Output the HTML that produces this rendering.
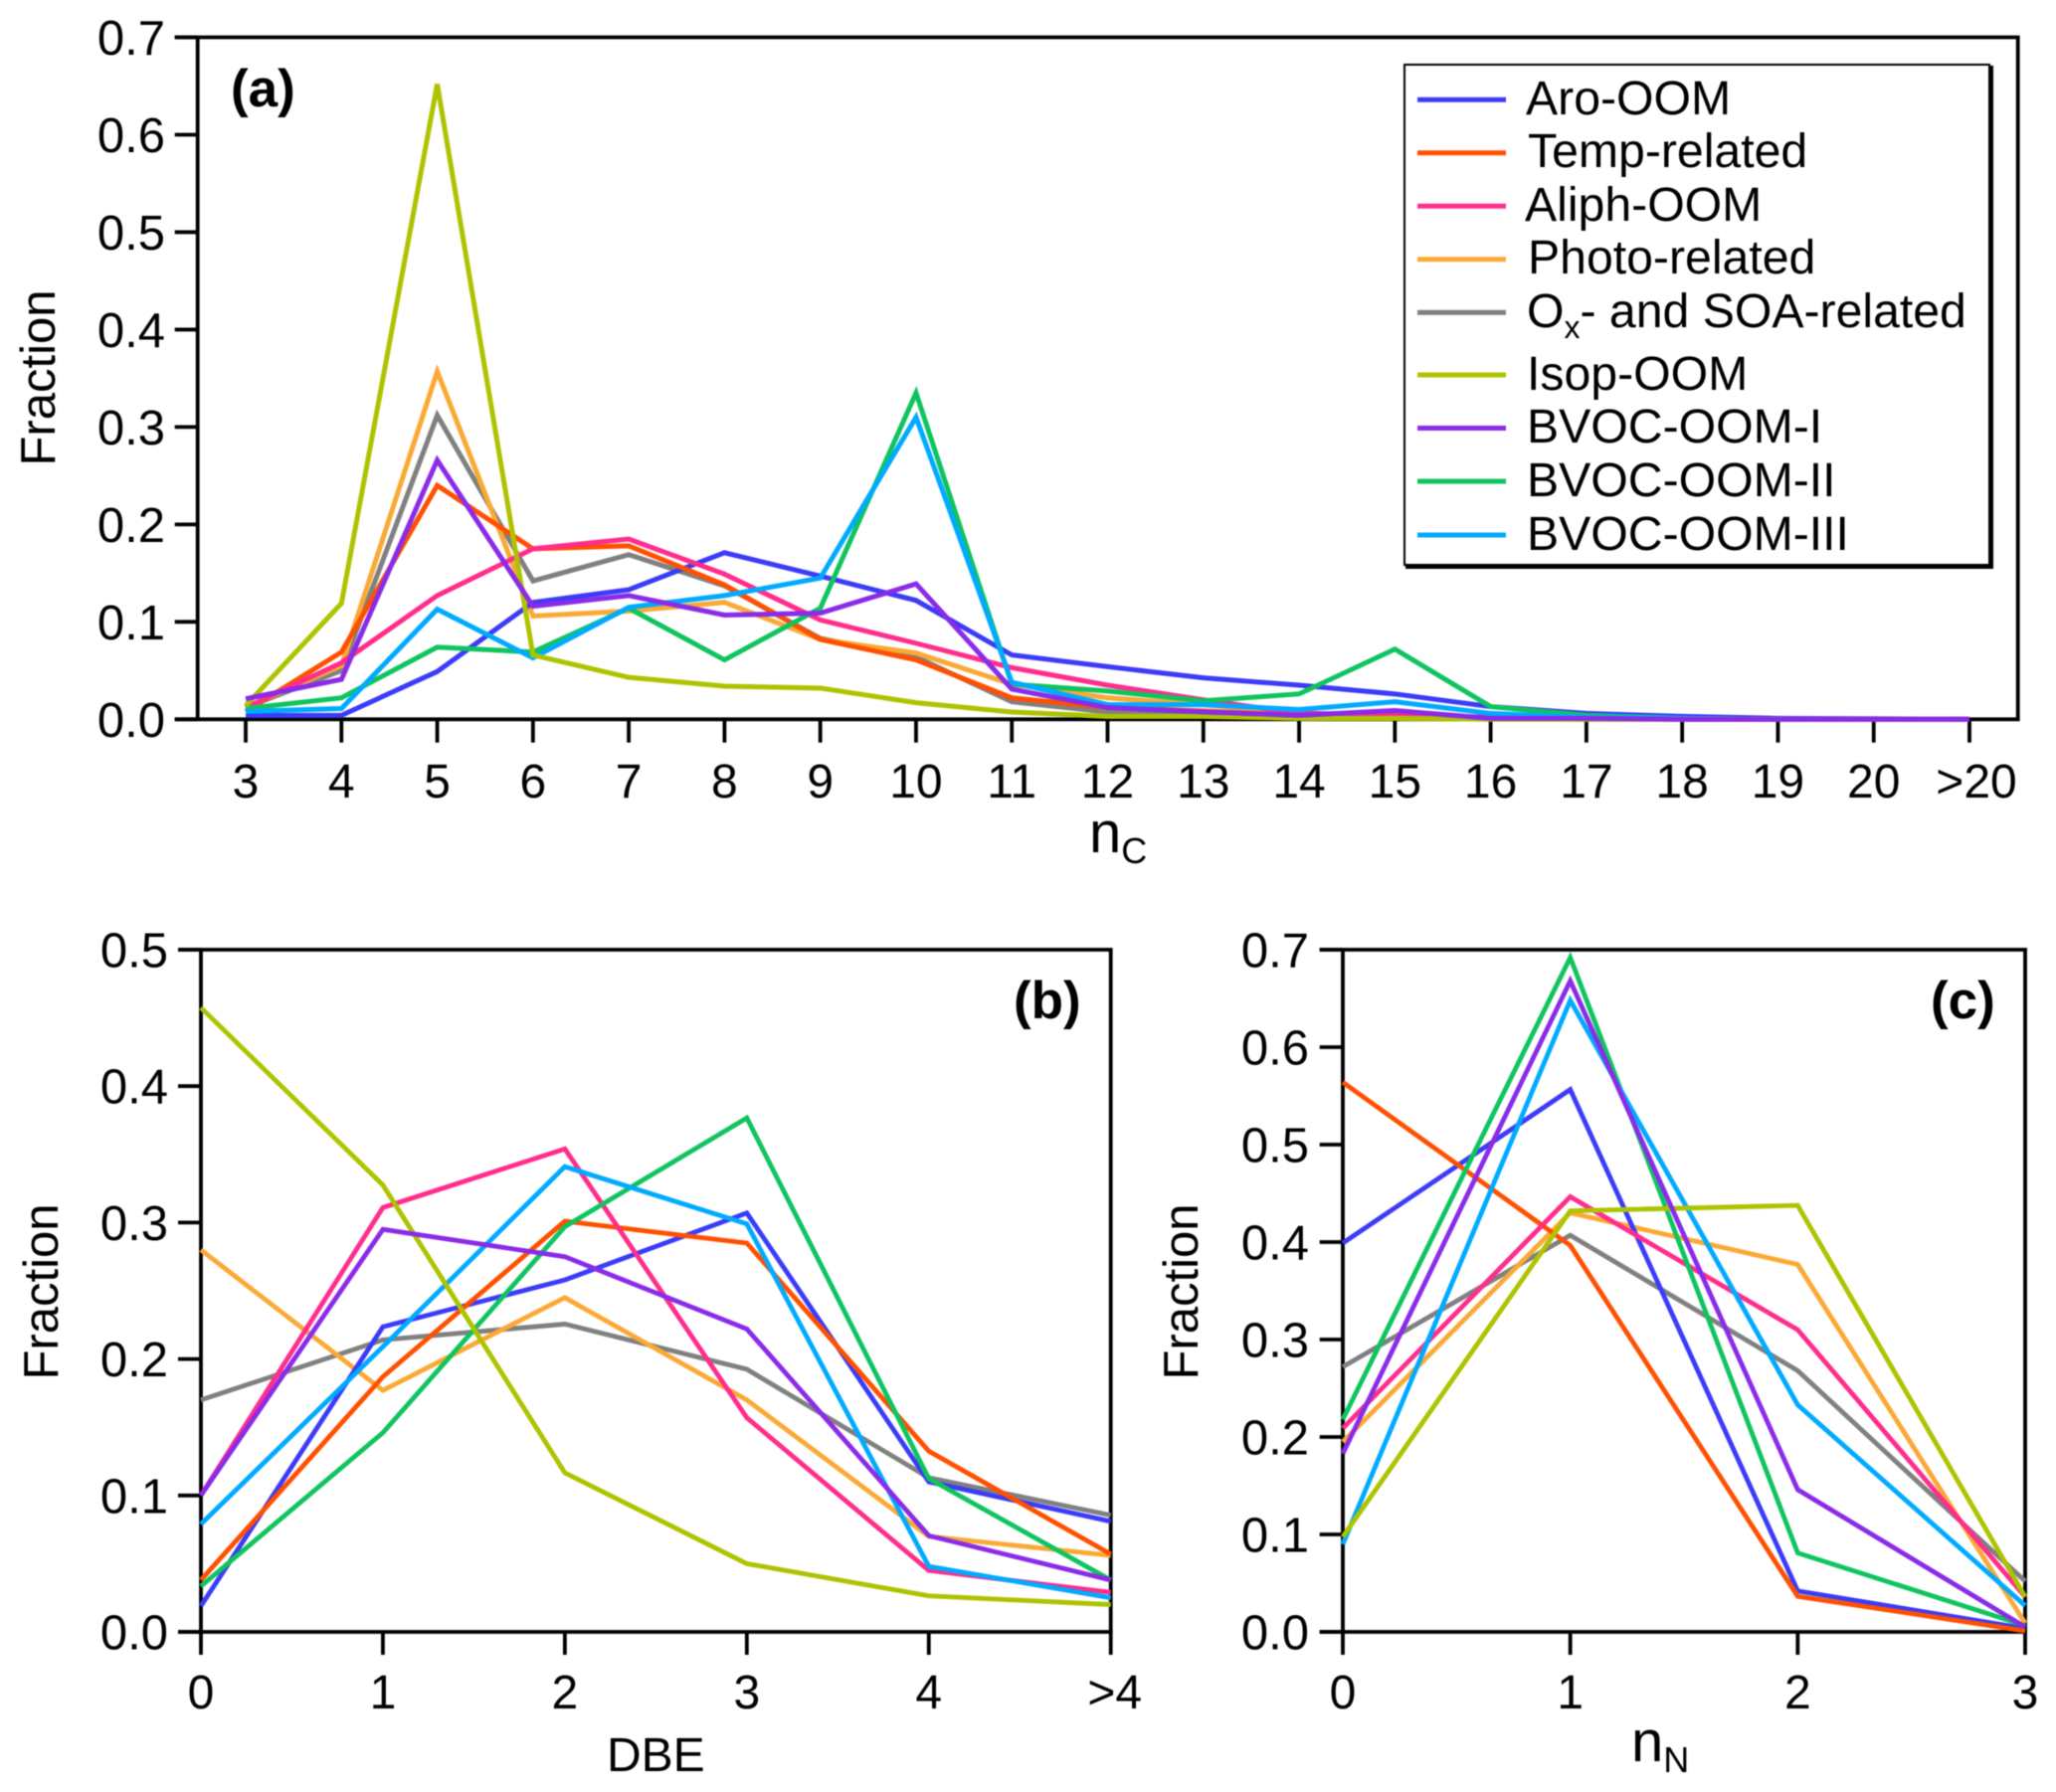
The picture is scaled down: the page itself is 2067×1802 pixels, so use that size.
<!DOCTYPE html>
<html lang="en">
<head>
<meta charset="utf-8">
<title>OOM factor fractions by nC, DBE and nN</title>
<style>
html,body{margin:0;padding:0;background:#fff;}
svg{display:block;font-family:"Liberation Sans",Arial,sans-serif;fill:#000;filter:blur(0.4px);}
</style>
</head>
<body>
<svg id="figure" xmlns="http://www.w3.org/2000/svg" width="2067" height="1802" viewBox="0 0 2067 1802">
<rect x="0" y="0" width="2067" height="1802" fill="#fff"/>
<g id="panel-a"></g>
<g id="panel-b"></g>
<g id="panel-c"></g>

<text x="232" y="107" font-size="53" font-weight="bold">(a)</text>
<text x="1019" y="1024" font-size="53" font-weight="bold">(b)</text>
<text x="1941" y="1024" font-size="53" font-weight="bold">(c)</text>

<text transform="translate(55 380) rotate(-90)" text-anchor="middle" font-size="49">Fraction</text>
<text transform="translate(58 1299) rotate(-90)" text-anchor="middle" font-size="49">Fraction</text>
<text transform="translate(1204 1299) rotate(-90)" text-anchor="middle" font-size="49">Fraction</text>

<text x="1095" y="857" font-size="58">n<tspan dy="11" font-size="36">C</tspan></text>
<text x="610" y="1781" font-size="48">DBE</text>
<text x="1640" y="1771" font-size="58">n<tspan dy="11" font-size="36">N</tspan></text>

<g>
  <rect x="1412" y="65" width="588" height="503" fill="#fff" stroke="#000" stroke-width="2"/>
  <rect x="2000" y="66" width="4" height="506" fill="#000"/>
  <rect x="1413" y="568" width="591" height="4" fill="#000"/>
  <g font-size="48.2">
    <g><line x1="1425" x2="1514" y1="100.3" y2="100.3" stroke="#3b3bf8" stroke-width="5"/><text x="1534" y="115">Aro-OOM</text></g>
    <g><line x1="1425" x2="1514" y1="153.7" y2="153.7" stroke="#ff5000" stroke-width="5"/><text x="1536" y="168">Temp-related</text></g>
    <g><line x1="1425" x2="1514" y1="207.3" y2="207.3" stroke="#ff2d8c" stroke-width="5"/><text x="1533" y="222">Aliph-OOM</text></g>
    <g><line x1="1425" x2="1514" y1="260.7" y2="260.7" stroke="#fba935" stroke-width="5"/><text x="1536" y="275">Photo-related</text></g>
    <g><line x1="1425" x2="1514" y1="314.3" y2="314.3" stroke="#808080" stroke-width="5"/><text x="1535" y="329">O<tspan dy="11" font-size="32">x</tspan><tspan dy="-11">- and SOA-related</tspan></text></g>
    <g><line x1="1425" x2="1514" y1="377" y2="377" stroke="#aec300" stroke-width="5"/><text x="1535" y="392">Isop-OOM</text></g>
    <g><line x1="1425" x2="1514" y1="430.5" y2="430.5" stroke="#8a2be8" stroke-width="5"/><text x="1535" y="445">BVOC-OOM-I</text></g>
    <g><line x1="1425" x2="1514" y1="484" y2="484" stroke="#0fc45e" stroke-width="5"/><text x="1535" y="499">BVOC-OOM-II</text></g>
    <g><line x1="1425" x2="1514" y1="538" y2="538" stroke="#00aaff" stroke-width="5"/><text x="1535" y="553">BVOC-OOM-III</text></g>
  </g>
</g>
</svg>

<script>
// ---- categories and tick labels ----
const ncCategories = ["3","4","5","6","7","8","9","10","11","12","13","14","15","16","17","18","19","20",">20"];
const dbeCategories = ["0","1","2","3","4",">4"];
const nnCategories = ["0","1","2","3"];
const ncYTicks = [0,0.1,0.2,0.3,0.4,0.5,0.6,0.7];
const dbeYTicks = [0,0.1,0.2,0.3,0.4,0.5];
const nnYTicks = [0,0.1,0.2,0.3,0.4,0.5,0.6,0.7];

// ---- series names and colours (in draw order) ----
const seriesNames = ["ox-soa","photo","aro","temp","aliph","bvoc-ii","bvoc-iii","isop","bvoc-i"];
const seriesColors = ["#808080","#fba935","#3b3bf8","#ff5000","#ff2d8c","#0fc45e","#00aaff","#aec300","#8a2be8"];

// ---- panel (a) values: fraction by nC ----
const aroNc   = [.004,.004,.049,.120,.133,.171,.147,.122,.066,.054,.0425,.035,.026,.013,.006,.003,.001,.0005,0];
const tempNc  = [.008,.069,.240,.175,.178,.138,.082,.061,.022,.012,.0085,.004,.004,.002,.001,0,0,0,0];
const aliphNc = [.012,.058,.127,.175,.185,.149,.102,.078,.053,.035,.020,.006,.005,.002,.001,0,0,0,0];
const photoNc = [.012,.055,.357,.106,.111,.120,.082,.068,.036,.022,.015,.006,.004,.001,.001,0,0,0,0];
const oxNc    = [.012,.050,.312,.142,.169,.137,.083,.064,.018,.0075,.005,.002,.003,.001,0,0,0,0,0];
const isopNc  = [.014,.119,.652,.066,.043,.034,.032,.017,.0075,.003,.003,.001,.001,0,0,0,0,0,0];
const bvoc1Nc = [.021,.041,.266,.116,.127,.107,.109,.139,.031,.012,.0075,.004,.009,.001,.001,0,0,0,0];
const bvoc2Nc = [.011,.022,.074,.069,.114,.061,.114,.335,.036,.029,.019,.026,.072,.013,.004,.001,0,0,0];
const bvoc3Nc = [.008,.011,.113,.063,.115,.127,.145,.310,.038,.015,.015,.010,.018,.006,.002,.001,0,0,0];

// ---- panel (b) values: fraction by DBE ----
const aroDbe   = [.019,.2236,.258,.307,.110,.081];
const tempDbe  = [.038,.187,.301,.285,.1325,.057];
const aliphDbe = [.100,.311,.354,.157,.045,.029];
const photoDbe = [.280,.177,.245,.170,.070,.056];
const oxDbe    = [.170,.214,.2256,.1925,.113,.0855];
const isopDbe  = [.4575,.3275,.1166,.050,.0264,.020];
const bvoc1Dbe = [.100,.295,.275,.222,.0705,.038];
const bvoc2Dbe = [.0335,.146,.297,.3767,.1124,.038];
const bvoc3Dbe = [.079,.209,.341,.299,.048,.025];

// ---- panel (c) values: fraction by nN ----
const aroNn   = [.399,.5565,.042,.0035];
const tempNn  = [.564,.3965,.0365,.001];
const aliphNn = [.209,.4465,.310,.036];
const photoNn = [.195,.430,.377,.009];
const oxNn    = [.272,.407,.268,.052];
const isopNn  = [.0976,.432,.4376,.036];
const bvoc1Nn = [.183,.668,.146,.005];
const bvoc2Nn = [.218,.692,.081,.0065];
const bvoc3Nn = [.090,.648,.233,.027];

const SVGNS = "http://www.w3.org/2000/svg";

function make(parent, tag, attrs, text) {
  const el = document.createElementNS(SVGNS, tag);
  for (const k in attrs) el.setAttribute(k, attrs[k]);
  if (text !== undefined) el.textContent = text;
  parent.appendChild(el);
  return el;
}

function drawPanel(root, cfg, categories, yTicks, seriesValues) {
  const yMax = yTicks[yTicks.length - 1];
  const xScale = i => cfg.x0 + (cfg.xN - cfg.x0) * i / (categories.length - 1);
  const yScale = v => cfg.bottom - (cfg.bottom - cfg.top) * v / yMax;
  const axisW = 3.8;

  // frame
  const frameTop = make(root, "line", {x1: cfg.tickLeft, x2: cfg.right + axisW/2, y1: cfg.top, y2: cfg.top, stroke: "#000", "stroke-width": axisW});
  
  
  const frameRight = make(root, "line", {x1: cfg.right, x2: cfg.right, y1: cfg.top, y2: cfg.bottom, stroke: "#000", "stroke-width": axisW});
  
  
  const axisX = make(root, "line", {x1: cfg.tickLeft, x2: cfg.right + axisW/2, y1: cfg.bottom, y2: cfg.bottom, stroke: "#000", "stroke-width": axisW});
  
  
  const axisY = make(root, "line", {x1: cfg.left, x2: cfg.left, y1: cfg.top, y2: cfg.bottom, stroke: "#000", "stroke-width": axisW});
  
  

  // y ticks
  yTicks.forEach(t => {
    const y = yScale(t);
    const tick = make(root, "line", {x1: cfg.tickLeft, x2: cfg.left, y1: y, y2: y, stroke: "#000", "stroke-width": axisW});
    
    
    const label = make(root, "text", {x: cfg.yLabelX, y: y + 17.5, "text-anchor": "end", "font-size": 49}, t.toFixed(1));
    
    
  });

  // x ticks
  categories.forEach((c, i) => {
    const x = xScale(i);
    const tick = make(root, "line", {x1: x, x2: x, y1: cfg.bottom, y2: cfg.tickBottom, stroke: "#000", "stroke-width": axisW});
    
    
    const shift = c.charAt(0) === ">" ? cfg.gtShift : 0;
    const label = make(root, "text", {x: x + shift, y: cfg.xLabelY, "text-anchor": "middle", "font-size": 48}, c);
    
    
  });

  // series
  seriesValues.forEach((values, s) => {
    const pts = values.map((v, i) => xScale(i).toFixed(2) + "," + yScale(v).toFixed(2)).join(" ");
    const line = make(root, "polyline", {points: pts, fill: "none", stroke: seriesColors[s], "stroke-width": cfg.lineW, "stroke-linejoin": "miter", "stroke-miterlimit": 3});
    
    
  });
}

drawPanel(document.getElementById("panel-a"),
  {left:198.7, right:2028.7, top:37.5, bottom:723.3, x0:247, xN:1980, tickLeft:175.7, tickBottom:746.7, yLabelX:166, xLabelY:802, gtShift:7, lineW:5},
  ncCategories, ncYTicks,
  [oxNc, photoNc, aroNc, tempNc, aliphNc, bvoc2Nc, bvoc3Nc, isopNc, bvoc1Nc]);

drawPanel(document.getElementById("panel-b"),
  {left:202, right:1116.7, top:955, bottom:1641, x0:202, xN:1116.7, tickLeft:179, tickBottom:1664, yLabelX:169, xLabelY:1718, gtShift:4, lineW:4.8},
  dbeCategories, dbeYTicks,
  [oxDbe, photoDbe, aroDbe, tempDbe, aliphDbe, bvoc2Dbe, bvoc3Dbe, isopDbe, bvoc1Dbe]);

drawPanel(document.getElementById("panel-c"),
  {left:1350, right:2036, top:955, bottom:1641, x0:1350, xN:2036, tickLeft:1326.7, tickBottom:1664, yLabelX:1316, xLabelY:1718, gtShift:0, lineW:4.8},
  nnCategories, nnYTicks,
  [oxNn, photoNn, aroNn, tempNn, aliphNn, bvoc2Nn, bvoc3Nn, isopNn, bvoc1Nn]);
</script>
</body>
</html>
